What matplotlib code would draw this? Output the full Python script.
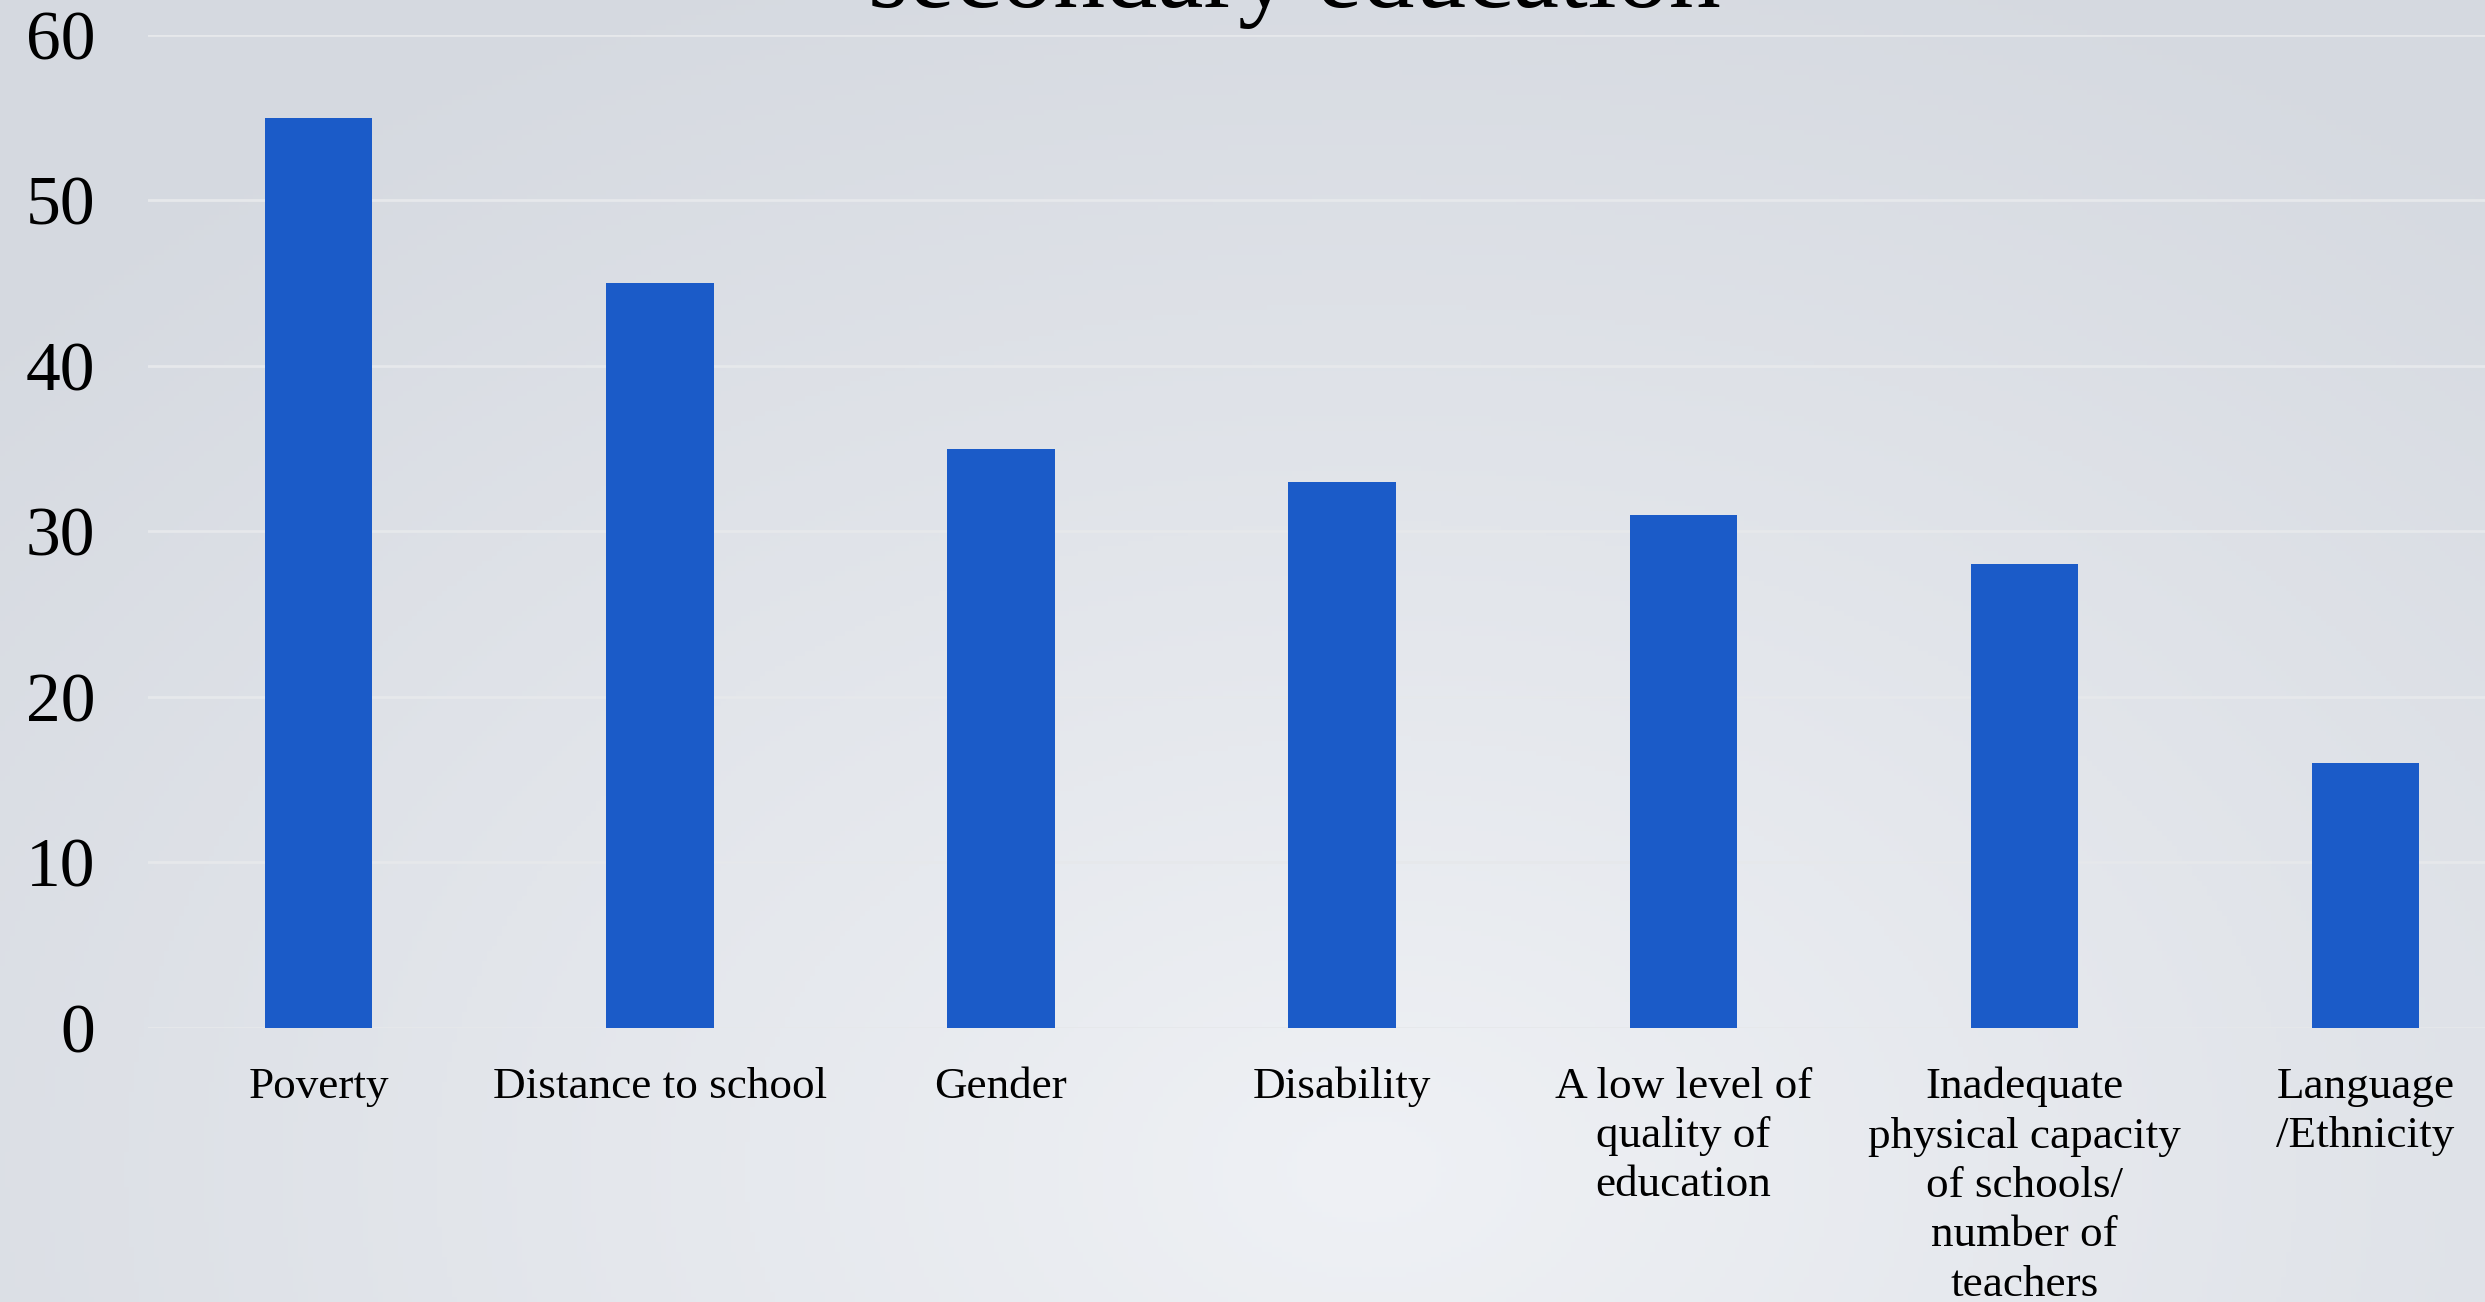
import numpy as np
import matplotlib
matplotlib.use('Agg')
import matplotlib.pyplot as plt

# chart data
categories = ['Poverty', 'Distance to school', 'Gender', 'Disability',
              'A low level of\nquality of\neducation',
              'Inadequate\nphysical capacity\nof schools/\nnumber of\nteachers',
              'Language\n/Ethnicity']
values = [55, 45, 35, 33, 31, 28, 16]
yticks = [0, 10, 20, 30, 40, 50, 60]
title_line = 'secondary education'

plt.rcParams['font.family'] = ['Liberation Serif', 'DejaVu Serif']

fig = plt.figure(figsize=(24.85, 13.02), dpi=100)

# gradient background (slide-like)
bg = fig.add_axes([0, 0, 1, 1], zorder=-10)
h, w = 260, 500
yy, xx = np.mgrid[0:h, 0:w]
fx = xx / (w - 1)
fy = 1 - yy / (h - 1)
d = np.sqrt(((fx - 0.55) / 0.75) ** 2 + ((fy - 0.1) / 1.0) ** 2)
d = np.clip(d, 0, 1)
light = np.array([239, 241, 245]) / 255
dark = np.array([213, 217, 224]) / 255
img = light[None, None, :] * (1 - d[..., None]) + dark[None, None, :] * d[..., None]
bg.imshow(img, aspect='auto', extent=[0, 1, 0, 1], origin='upper')
bg.axis('off')

ax = fig.add_axes([0.0596, 0.2105, 0.961, 0.7628])
ax.set_facecolor('none')
x = np.arange(len(categories))
ax.bar(x, values, width=0.315, color='#1B5BC8', zorder=3)

ax.set_xlim(-0.5, len(categories) - 0.5)
ax.set_ylim(0, 60)
ax.set_yticks(yticks)
ax.set_yticklabels([str(t) for t in yticks], fontsize=50)
ax.set_xticks(x)
ax.set_xticklabels(categories, fontsize=32.5, linespacing=1.3)
ax.tick_params(axis='y', length=0, pad=38)
ax.tick_params(axis='x', length=0, pad=28)
ax.grid(axis='y', color='#e6e8eb', linewidth=2, zorder=0)
for s in ax.spines.values():
    s.set_visible(False)

fig.text(0.5207, 0.9946, title_line, ha='center', va='baseline', fontsize=75)

fig.savefig('out.png', dpi=100)
